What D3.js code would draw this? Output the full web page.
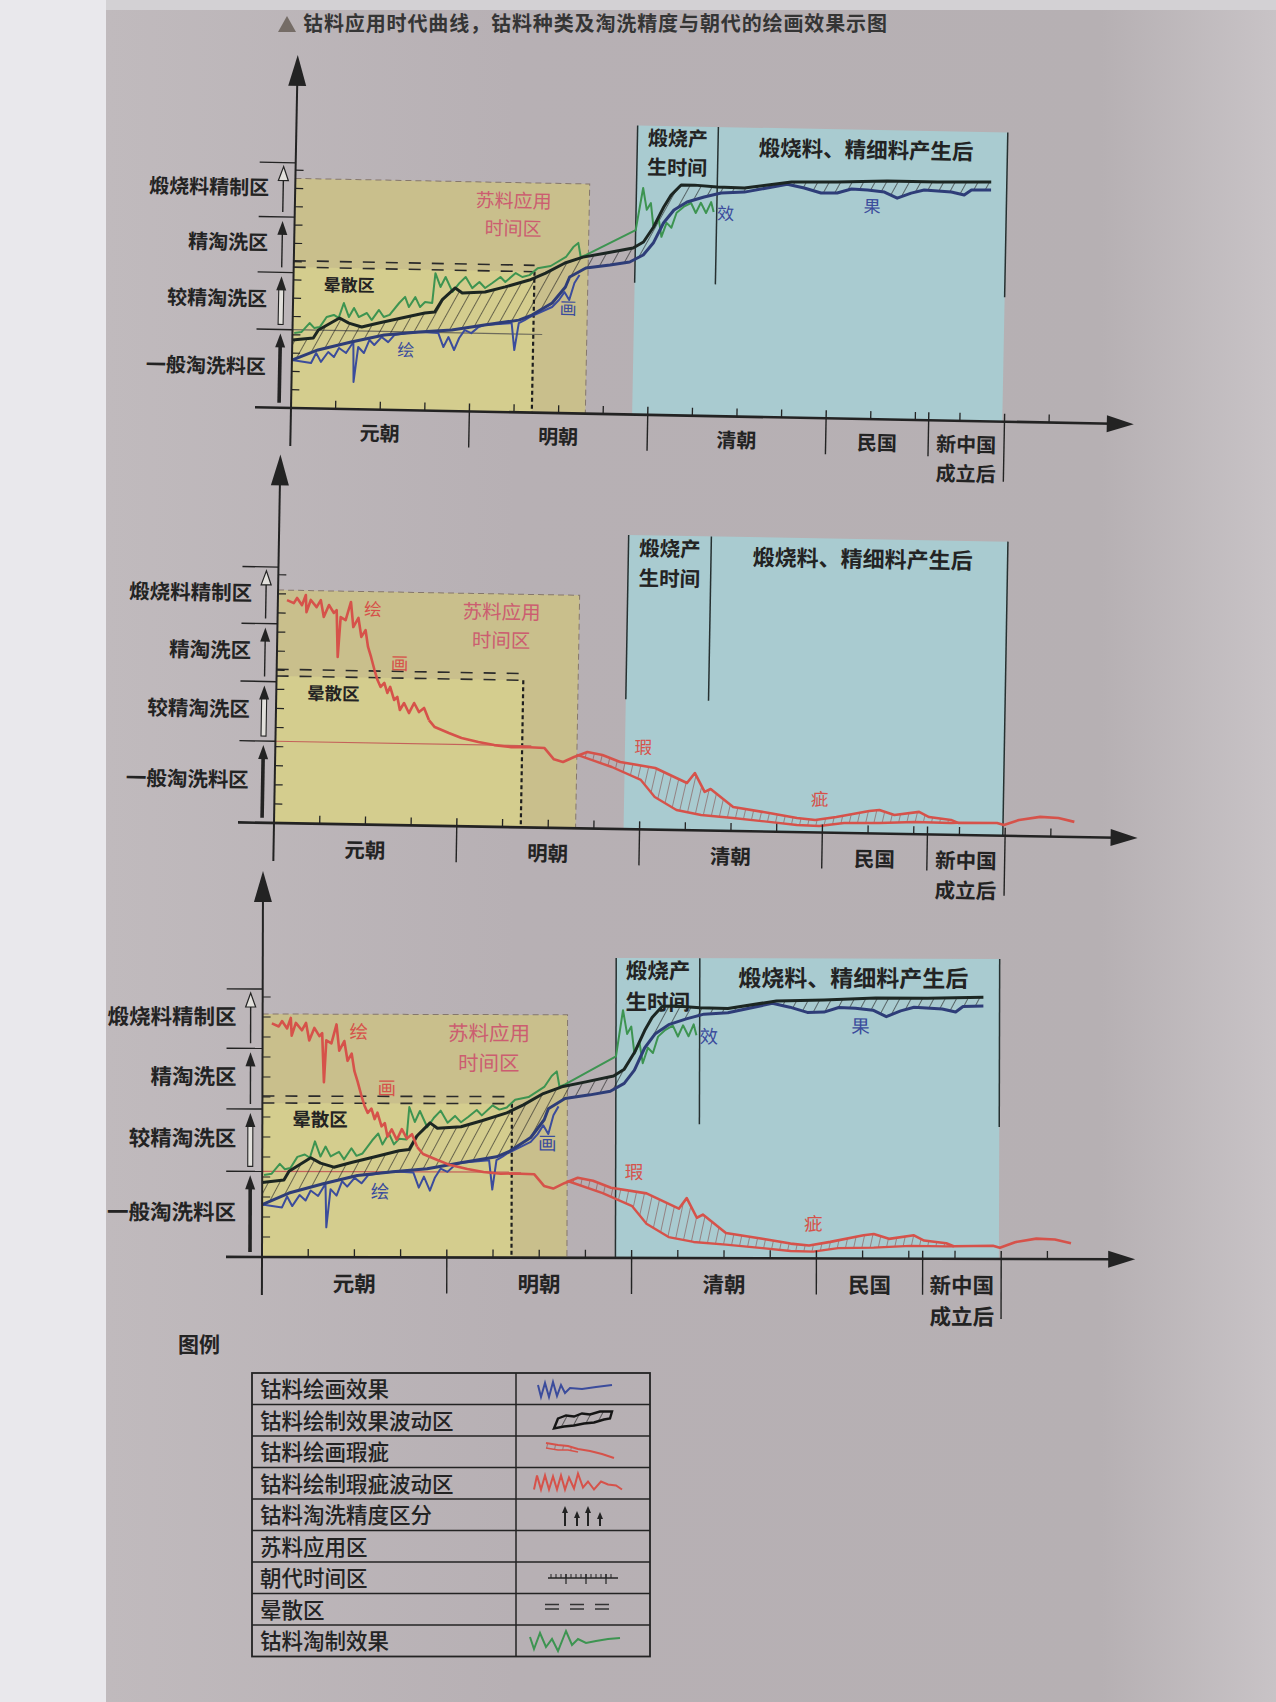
<!DOCTYPE html>
<html>
<head>
<meta charset="utf-8">
<script src="https://cdn.jsdelivr.net/npm/d3@7"></script>
<style>
  body { margin: 0; background: #e9e8ec; }
  svg { display: block; }
  text { font-family: "Noto Sans CJK SC", "Noto Sans", sans-serif; }
</style>
</head>
<body>
<svg id="chart" width="1276" height="1702"></svg>
<script>
// ---- categories / axis labels ----
const dynastyNames = ["元朝", "明朝", "清朝", "民国", "新中国|成立后"];
const dynastyEdges = [0, 4, 8, 12, 14.3, 16];          // time units along x
const zoneNames = ["一般淘洗料区", "较精淘洗区", "精淘洗区", "煅烧料精制区"];
const zoneEdges = [0, 4.28, 7.4, 10.43, 13.4];         // grade units along y

// ---- special zones ----
const suliaoEnd = 6.6;                                  // 苏料应用时间区 right edge
const blurEnd = 5.4, blurTop = 8.05, blurBottom = 7.7;  // 晕散区
const calcineStart = 7.65, calcineSplit = 9.46, calcineEnd = 15.95;

// ---- 钴料绘画效果 (blue, noisy) ----
const effectU = [0, 0.43, 0.54, 0.65, 0.81, 0.94, 1.05, 1.21, 1.37, 1.39, 1.48, 1.61, 1.73, 1.84, 2.0, 2.15, 2.29, 2.56, 2.89, 3.27,
  3.39, 3.5, 3.63, 3.74, 3.86, 4.01, 4.17, 4.3, 4.91, 4.98, 5.07, 5.2, 5.31, 5.81, 5.96, 6.08, 6.19, 6.3, 6.41];
const effectV = [2.62, 2.48, 3.03, 2.55, 3.1, 2.83, 3.33, 3.06, 3.67, 1.49, 3.4, 3.08, 3.8, 3.53, 3.97, 3.7, 4.1, 4.22, 4.29, 4.25,
  3.49, 4.04, 3.34, 4.0, 4.44, 4.28, 4.62, 4.74, 4.87, 3.4, 4.88, 5.05, 5.22, 5.79, 6.18, 6.62, 6.19, 7.13, 7.57];

// ---- 钴料绘制效果波动区: upper (black) and lower (blue) edges ----
const bandTopU = [0, 0.47, 0.58, 1.05, 1.26, 1.55, 1.93, 2.44, 2.96, 3.18, 3.34, 3.63, 3.79, 4.3, 4.75, 5.29, 5.65, 6.08, 6.48, 7.0,
  7.6, 7.83, 8.05, 8.27, 8.43, 8.65, 8.95, 9.46, 10.07, 11.12, 12.15, 13.27, 14.39, 15.6];
const bandTopV = [3.72, 3.85, 4.29, 4.97, 4.7, 4.5, 4.74, 5.03, 5.33, 5.39, 6.06, 6.73, 6.46, 6.54, 6.84, 7.24, 7.64, 8.21, 8.55, 8.8,
  9.1, 9.44, 10.27, 11.37, 12.03, 12.59, 12.6, 12.52, 12.49, 12.87, 12.92, 13.03, 13.02, 13.08];
const bandBotU = [0, 0.58, 1.32, 2.06, 2.83, 3.57, 4.3, 5.07, 5.36, 5.81, 6.1, 6.19, 6.55, 7.09, 7.53, 7.83, 8.05, 8.27, 8.5, 8.79,
  9.17, 9.55, 10.07, 11.03, 11.41, 11.79, 12.15, 12.47, 12.83, 13.21, 13.5, 13.81, 14.1, 14.71, 15.0, 15.16, 15.6];
const bandBotV = [2.62, 3.2, 3.67, 4.09, 4.28, 4.43, 4.74, 5.04, 5.33, 6.01, 6.9, 7.45, 7.96, 8.15, 8.33, 8.73, 9.39, 10.5, 11.22, 11.67,
  11.96, 12.2, 12.27, 12.75, 12.56, 12.3, 12.32, 12.55, 12.52, 12.42, 12.1, 12.39, 12.57, 12.49, 12.34, 12.62, 12.64];

// ---- 钴料淘制效果 (green) ----
const refineU = [0.04, 0.2, 0.38, 0.49, 0.61, 0.76, 0.92, 1.03, 1.14, 1.26, 1.37, 1.48, 1.66, 1.77, 1.93, 2.04, 2.17, 2.38, 2.51, 2.6,
  2.74, 2.85, 2.96, 3.12, 3.18, 3.3, 3.41, 3.57, 3.72, 3.86, 4.01, 4.17, 4.3, 4.46, 4.64, 4.75, 4.98, 5.13, 5.29, 5.47,
  5.76, 6.1, 6.26, 6.37, 6.43, 6.55, 7.65, 7.8, 7.89, 7.98, 8.05, 8.16, 8.23, 8.34, 8.45, 8.56, 8.72, 8.88, 8.99, 9.1,
  9.22, 9.33, 9.39];
const refineV = [4.1, 4.16, 4.66, 4.39, 4.45, 5.01, 5.13, 4.97, 5.79, 5.03, 5.53, 5.04, 5.27, 4.89, 5.45, 5.07, 5.19, 5.85, 6.19, 5.64,
  6.19, 5.65, 5.93, 5.89, 7.52, 6.77, 7.32, 6.51, 7.0, 7.34, 6.74, 7.08, 6.76, 7.04, 7.38, 7.11, 7.61, 7.4, 7.51, 7.9,
  8.03, 8.54, 9.09, 9.32, 8.55, 8.67, 10.08, 12.39, 11.2, 11.57, 10.21, 10.76, 9.74, 10.51, 10.25, 11.07, 11.41, 11.62, 11.08, 11.64,
  11.09, 11.69, 11.15];

// ---- 钴料绘制瑕疵波动区 (red, noisy) ----
const flawNoisyU = [0.2, 0.35, 0.42, 0.53, 0.61, 0.63, 0.72, 0.85, 0.94, 1.01, 1.12, 1.23, 1.29, 1.33, 1.38, 1.49, 1.6, 1.66, 1.77, 1.84,
  1.93, 1.99, 2.06, 2.14, 2.21, 2.28, 2.36, 2.43, 2.49, 2.58, 2.65, 2.71, 2.8, 2.91, 3.02, 3.13, 3.24, 3.35];
const flawNoisyV = [11.68, 11.53, 11.8, 11.43, 11.96, 11.07, 11.71, 11.34, 11.71, 10.83, 11.46, 11.05, 11.2, 8.75, 10.84, 10.69, 11.64, 10.33, 10.81, 9.82,
  10.18, 9.3, 8.78, 8.1, 7.58, 7.22, 7.43, 6.91, 7.23, 6.55, 6.71, 6.03, 6.4, 5.88, 6.41, 5.94, 6.16, 5.53];

// ---- 钴料绘画瑕疵 (red): upper line and lower edge of hatched band ----
const flawU = [3.35, 3.48, 3.79, 4.07, 4.44, 4.79, 5.16, 5.45, 5.89, 6.1, 6.3, 6.54, 6.83, 7.16, 7.55, 8.32, 9.02, 9.19, 9.41, 9.54,
  10.04, 10.83, 11.44, 11.84, 12.3, 13.02, 13.24, 13.57, 14.11, 14.33, 14.81, 14.97, 15.82, 15.97, 16.3, 16.76, 17.16, 17.51];
const flawV = [5.53, 5.17, 4.87, 4.62, 4.43, 4.28, 4.19, 4.21, 4.17, 3.59, 3.46, 3.73, 4.0, 3.86, 3.51, 3.23, 2.47, 3.0, 2.02, 2.18,
  1.26, 0.98, 0.74, 0.65, 0.83, 1.17, 1.23, 0.99, 1.17, 0.91, 0.78, 0.63, 0.66, 0.56, 0.84, 1.02, 0.98, 0.79];
const flawLowU = [6.61, 7.37, 8.01, 8.32, 8.8, 9.34, 10.04, 10.83, 11.44, 11.93, 12.47, 13.24, 14.03, 14.81, 14.97];
const flawLowV = [3.84, 3.24, 2.59, 1.71, 1.05, 0.81, 0.68, 0.51, 0.37, 0.34, 0.52, 0.55, 0.64, 0.62, 0.63];

// ---- curve annotations ----
const effectNotes = [["绘", 2.55, 3.2], ["画", 6.17, 5.64], ["效", 9.66, 11.0], ["果", 12.94, 11.53]];
const flawNotes = [["绘", 2.08, 11.19], ["画", 2.69, 8.38], ["瑕", 8.05, 4.21], ["疵", 11.93, 1.65]];

// ---- legend ----
const legendLabels = ["钴料绘画效果", "钴料绘制效果波动区", "钴料绘画瑕疵", "钴料绘制瑕疵波动区",
  "钴料淘洗精度区分", "苏料应用区", "朝代时间区", "晕散区", "钴料淘制效果"];

const title = "钴料应用时代曲线，钴料种类及淘洗精度与朝代的绘画效果示图";

// panel placement (the photo page is slightly curved, so each panel differs a bit)
const panels = [
  { x0: 291, y0: 408, kx: 44.6, ky: 18.3, tilt: 1.1, fs: 20, effect: true, flaw: false,
    yellowTop: 12.55, blueTop: 15.8, blueLines: [7.2, 7.2, 6.8], boundary: "#6d6b5c" },
  { x0: 274, y0: 823, kx: 45.7, ky: 19.1, tilt: 1.0, fs: 20.5, effect: false, flaw: true,
    yellowTop: 12.2, blueTop: 15.4, blueLines: [6.8, 6.8, 0], boundary: "#c4625a" },
  { x0: 262, y0: 1257, kx: 46.2, ky: 20.0, tilt: 0.15, fs: 21.5, effect: true, flaw: true,
    yellowTop: 12.15, blueTop: 15.0, blueLines: [0, 6.7, 6.6], boundary: "#c4625a" }
];

const C = {
  ink: "#232323", yellow: "#c9bf8c", yellowLight: "#d4cd8e", cyan: "#a9cbd0",
  blue: "#3b4c9c", blueEdge: "#2e3d78", black: "#1c2622", green: "#3d9451", red: "#d6524a", pink: "#cc5d70"
};

const svg = d3.select("#chart");
const defs = svg.append("defs");

const pageGrad = defs.append("linearGradient").attr("id", "page").attr("x1", 0).attr("x2", 1).attr("y1", 0).attr("y2", 0);
pageGrad.append("stop").attr("offset", "0").attr("stop-color", "#c0babd");
pageGrad.append("stop").attr("offset", "0.35").attr("stop-color", "#b7b0b4");
pageGrad.append("stop").attr("offset", "0.85").attr("stop-color", "#b6b0b3");
pageGrad.append("stop").attr("offset", "1").attr("stop-color", "#c8c3c6");

const hatchK = defs.append("pattern").attr("id", "hatchK").attr("patternUnits", "userSpaceOnUse")
  .attr("width", 10).attr("height", 10).attr("patternTransform", "rotate(28)");
hatchK.append("line").attr("x1", 0).attr("y1", 0).attr("x2", 0).attr("y2", 10).attr("stroke", "#1e1e1e").attr("stroke-width", 1.2);

const hatchR = defs.append("pattern").attr("id", "hatchR").attr("patternUnits", "userSpaceOnUse")
  .attr("width", 8).attr("height", 8).attr("patternTransform", "rotate(12)");
hatchR.append("line").attr("x1", 0).attr("y1", 0).attr("x2", 0).attr("y2", 8).attr("stroke", "#7e3a35").attr("stroke-width", 1);

// page
svg.append("rect").attr("width", 1276).attr("height", 1702).attr("fill", "#e9e8ec");
svg.append("rect").attr("x", 106).attr("y", 0).attr("width", 1170).attr("height", 1702).attr("fill", "url(#page)");
svg.append("rect").attr("x", 106).attr("y", 0).attr("width", 1170).attr("height", 10).attr("fill", "#d3d1d4");

// title
svg.append("path").attr("d", "M278,32 L287,16 L296,32 Z").attr("fill", "#756c66");
svg.append("text").attr("x", 303).attr("y", 31).attr("font-size", 20).attr("font-weight", 700)
  .attr("textLength", 584).attr("lengthAdjust", "spacing").attr("fill", "#353535").text(title);

const pts = (us, vs) => us.map((u, i) => [u, vs[i]]);

// multi-line centred label as one text element
function stacked(g, cx, cy, lines, gap, attrs) {
  const t = g.append("text").attr("x", cx).attr("y", cy).attr("text-anchor", "middle").attr("dominant-baseline", "middle");
  Object.entries(attrs).forEach(([k, v]) => t.attr(k, v));
  lines.forEach((s, j) => t.append("tspan").attr("x", cx).attr("dy", j === 0 ? 0 : gap).text(s));
  return t;
}

panels.forEach(drawPanel);

function drawPanel(p) {
  const g = svg.append("g").attr("transform", `translate(${p.x0},${p.y0}) rotate(${p.tilt})`);
  const x = d3.scaleLinear().domain([0, 19]).range([0, 19 * p.kx]);
  const y = d3.scaleLinear().domain([0, 20]).range([0, -20 * p.ky]);
  const line = d3.line().x(d => x(d[0])).y(d => y(d[1]));
  const gap = p.fs * 1.46;

  // 苏料应用时间区
  g.append("rect").attr("x", x(0)).attr("y", y(p.yellowTop)).attr("width", x(suliaoEnd) - x(0))
    .attr("height", y(0) - y(p.yellowTop)).attr("fill", C.yellow);
  g.append("rect").attr("x", x(0)).attr("y", y(blurBottom)).attr("width", x(blurEnd) - x(0))
    .attr("height", y(0) - y(blurBottom)).attr("fill", C.yellowLight);
  g.append("path").attr("d", `M${x(0)},${y(p.yellowTop)}H${x(suliaoEnd)}V${y(0)}`)
    .attr("fill", "none").attr("stroke", "#85776c").attr("stroke-width", 1).attr("stroke-dasharray", "6,4");
  stacked(g, x(4.9), y(p.yellowTop) + 20, ["苏料应用", "时间区"], (p.fs - 1) * 1.46,
    { "font-size": p.fs - 1, fill: C.pink });

  // 煅烧料 zone
  g.append("rect").attr("x", x(calcineStart)).attr("y", y(p.blueTop)).attr("width", x(calcineEnd) - x(calcineStart))
    .attr("height", y(0) - y(p.blueTop)).attr("fill", C.cyan);
  [calcineStart, calcineSplit, calcineEnd].forEach((u, i) => {
    g.append("line").attr("x1", x(u)).attr("x2", x(u)).attr("y1", y(p.blueTop)).attr("y2", y(p.blueLines[i]))
      .attr("stroke", "#263030").attr("stroke-width", 1.5);
  });
  const midA = (x(calcineStart) + x(calcineSplit)) / 2;
  stacked(g, midA, y(p.blueTop) + 14.5, ["煅烧产", "生时间"], gap,
    { "font-size": p.fs, "font-weight": 700, fill: C.ink });
  g.append("text").attr("x", x(12.78)).attr("y", y(p.blueTop) + 22).attr("text-anchor", "middle")
    .attr("dominant-baseline", "middle").attr("font-size", p.fs + 1.5).attr("font-weight", 700).attr("fill", C.ink)
    .text("煅烧料、精细料产生后");

  // 晕散区
  [blurTop, blurBottom].forEach(v => {
    g.append("line").attr("x1", x(0)).attr("x2", x(blurEnd)).attr("y1", y(v)).attr("y2", y(v))
      .attr("stroke", "#2a2a2a").attr("stroke-width", 1.6).attr("stroke-dasharray", "12,11");
  });
  g.append("line").attr("x1", x(blurEnd)).attr("x2", x(blurEnd)).attr("y1", y(blurBottom)).attr("y2", y(0))
    .attr("stroke", "#1e1e1e").attr("stroke-width", 2.2).attr("stroke-dasharray", "4,3");
  g.append("text").attr("x", x(1.25)).attr("y", y(blurTop) + 25).attr("text-anchor", "middle")
    .attr("dominant-baseline", "middle").attr("font-size", p.fs - 3).attr("font-weight", 700).attr("fill", C.ink).text("晕散区");

  // boundary between 一般 / 较精 extended into plot
  g.append("line").attr("x1", x(0)).attr("x2", x(5.6)).attr("y1", y(zoneEdges[1])).attr("y2", y(zoneEdges[1]))
    .attr("stroke", p.boundary).attr("stroke-width", 1.2);

  if (p.effect) {
    const top = pts(bandTopU, bandTopV), bot = pts(bandBotU, bandBotV);
    g.append("path").attr("d", line(top.concat(bot.slice().reverse())) + "Z").attr("fill", "url(#hatchK)");
    g.append("path").attr("d", line(pts(refineU, refineV))).attr("fill", "none")
      .attr("stroke", C.green).attr("stroke-width", 2).attr("stroke-linejoin", "round");
    g.append("path").attr("d", line(pts(effectU, effectV))).attr("fill", "none")
      .attr("stroke", C.blue).attr("stroke-width", 2).attr("stroke-linejoin", "round");
    g.append("path").attr("d", line(bot)).attr("fill", "none")
      .attr("stroke", C.blueEdge).attr("stroke-width", 3).attr("stroke-linejoin", "round");
    g.append("path").attr("d", line(top)).attr("fill", "none")
      .attr("stroke", C.black).attr("stroke-width", 3).attr("stroke-linejoin", "round");
    effectNotes.forEach(([t, u, v]) => {
      g.append("text").attr("x", x(u)).attr("y", y(v)).attr("text-anchor", "middle").attr("dominant-baseline", "middle")
        .attr("font-size", p.fs - 3).attr("fill", C.blue).text(t);
    });
  }

  if (p.flaw) {
    const upper = pts(flawU, flawV).filter(d => d[0] >= 6.54 && d[0] <= 14.97);
    const lower = pts(flawLowU, flawLowV);
    g.append("path").attr("d", line(upper.concat(lower.slice().reverse())) + "Z").attr("fill", "url(#hatchR)");
    g.append("path").attr("d", line(pts(flawNoisyU, flawNoisyV))).attr("fill", "none")
      .attr("stroke", C.red).attr("stroke-width", 2.6).attr("stroke-linejoin", "round");
    g.append("path").attr("d", line(pts(flawU, flawV))).attr("fill", "none")
      .attr("stroke", C.red).attr("stroke-width", 2.6).attr("stroke-linejoin", "round");
    g.append("path").attr("d", line(lower)).attr("fill", "none")
      .attr("stroke", C.red).attr("stroke-width", 2.4).attr("stroke-linejoin", "round");
    flawNotes.forEach(([t, u, v]) => {
      g.append("text").attr("x", x(u)).attr("y", y(v)).attr("text-anchor", "middle").attr("dominant-baseline", "middle")
        .attr("font-size", p.fs - 3).attr("fill", C.red).text(t);
    });
  }

  // x axis
  const xEnd = 18.9;
  g.append("line").attr("x1", -36).attr("x2", x(xEnd) - 20).attr("y1", 0).attr("y2", 0)
    .attr("stroke", C.ink).attr("stroke-width", 2.6);
  g.append("path").attr("d", `M${x(xEnd)},0 L${x(xEnd) - 27},-8.5 L${x(xEnd) - 27},8.5 Z`).attr("fill", C.ink);
  d3.range(1, 18).filter(u => !dynastyEdges.includes(u)).forEach(u => {
    g.append("line").attr("x1", x(u)).attr("x2", x(u)).attr("y1", 0).attr("y2", -8).attr("stroke", C.ink).attr("stroke-width", 1.3);
  });
  dynastyEdges.slice(1).forEach((u, i, arr) => {
    g.append("line").attr("x1", x(u)).attr("x2", x(u)).attr("y1", -8).attr("y2", i === arr.length - 1 ? 60 : 36)
      .attr("stroke", C.ink).attr("stroke-width", 1.4);
  });
  dynastyNames.forEach((name, i) => {
    const cx = (x(dynastyEdges[i]) + x(dynastyEdges[i + 1])) / 2;
    stacked(g, cx, p.ky * 1.42, name.split("|"), gap,
      { "font-size": p.fs, "font-weight": 700, fill: C.ink });
  });

  // y axis
  const yEnd = 19.3;
  g.append("line").attr("x1", 0).attr("x2", 0).attr("y1", 38).attr("y2", y(yEnd) + 20)
    .attr("stroke", C.ink).attr("stroke-width", 2);
  g.append("path").attr("d", `M0,${y(yEnd)} L-9,${y(yEnd) + 31} L9,${y(yEnd) + 31} Z`).attr("fill", C.ink);
  d3.range(1, 14).forEach(v => {
    g.append("line").attr("x1", 0).attr("x2", 8).attr("y1", y(v)).attr("y2", y(v)).attr("stroke", C.ink).attr("stroke-width", 1.2);
  });
  zoneEdges.slice(1).forEach(v => {
    g.append("line").attr("x1", -36).attr("x2", 0).attr("y1", y(v)).attr("y2", y(v)).attr("stroke", C.ink).attr("stroke-width", 1.4);
  });

  // zone arrows and labels
  zoneNames.forEach((name, i) => {
    const yb = y(zoneEdges[i]) - 5, yt = y(zoneEdges[i + 1]) + 4, ax = -12;
    const head = `M${ax},${yt} L${ax - 5},${yt + 14} L${ax + 5},${yt + 14} Z`;
    if (i === 0) {
      g.append("line").attr("x1", ax).attr("x2", ax).attr("y1", yb).attr("y2", yt + 12).attr("stroke", C.ink).attr("stroke-width", 3.6);
      g.append("path").attr("d", head).attr("fill", C.ink);
    } else if (i === 1) {
      g.append("rect").attr("x", ax - 2.5).attr("y", yt + 13).attr("width", 5).attr("height", yb - yt - 13)
        .attr("fill", "#e2e0dc").attr("stroke", C.ink).attr("stroke-width", 1.1);
      g.append("path").attr("d", head).attr("fill", C.ink);
    } else if (i === 2) {
      g.append("line").attr("x1", ax).attr("x2", ax).attr("y1", yb).attr("y2", yt + 12).attr("stroke", C.ink).attr("stroke-width", 1.4);
      g.append("path").attr("d", head).attr("fill", C.ink);
    } else {
      g.append("line").attr("x1", ax).attr("x2", ax).attr("y1", yb).attr("y2", yt + 13).attr("stroke", C.ink).attr("stroke-width", 1.4);
      g.append("path").attr("d", head).attr("fill", "#e2e0dc").attr("stroke", C.ink).attr("stroke-width", 1.2);
    }
    g.append("text").attr("x", -26).attr("y", (y(zoneEdges[i]) + y(zoneEdges[i + 1])) / 2).attr("text-anchor", "end")
      .attr("dominant-baseline", "middle").attr("font-size", p.fs).attr("font-weight", 700).attr("fill", C.ink).text(name);
  });
}

// ---- legend ----
const lg = { left: 252, right: 650, top: 1373, mid: 516, rowH: 31.5 };
svg.append("text").attr("x", 178).attr("y", 1352).attr("font-size", 21).attr("font-weight", 700).attr("fill", C.ink).text("图例");
const legend = svg.append("g");
legend.append("rect").attr("x", lg.left).attr("y", lg.top).attr("width", lg.right - lg.left)
  .attr("height", lg.rowH * legendLabels.length).attr("fill", "none").attr("stroke", C.ink).attr("stroke-width", 1.8);
legend.append("line").attr("x1", lg.mid).attr("x2", lg.mid).attr("y1", lg.top).attr("y2", lg.top + lg.rowH * legendLabels.length)
  .attr("stroke", C.ink).attr("stroke-width", 1.5);
legendLabels.forEach((label, i) => {
  const ry = lg.top + i * lg.rowH;
  if (i > 0) legend.append("line").attr("x1", lg.left).attr("x2", lg.right).attr("y1", ry).attr("y2", ry)
    .attr("stroke", C.ink).attr("stroke-width", 1.5);
  legend.append("text").attr("x", lg.left + 8).attr("y", ry + 24).attr("font-size", 21.5).attr("font-weight", 500)
    .attr("fill", C.ink).text(label);
});

const sample = (i, d) => legend.append("path").attr("transform", `translate(${lg.mid},${lg.top + i * lg.rowH})`).attr("d", d);
const sl = d3.line();
sample(0, sl([[22, 12], [25, 24], [29, 10], [33, 24], [37, 9], [41, 23], [45, 12], [49, 20], [54, 15], [66, 16], [80, 14], [96, 12]]))
  .attr("fill", "none").attr("stroke", C.blue).attr("stroke-width", 2);
const kTop = [[42, 14], [50, 11], [58, 12], [66, 9], [74, 10], [84, 7], [96, 7]];
const kBot = [[38, 24], [48, 22], [58, 21], [68, 19], [78, 18], [88, 15], [94, 14]];
sample(1, sl(kTop.concat(kBot.slice().reverse())) + "Z").attr("fill", "url(#hatchK)").attr("stroke", "#151515").attr("stroke-width", 2.4);
const rTop = [[30, 7], [42, 9], [52, 10], [62, 13], [74, 15], [86, 18], [98, 22]];
const rBot = [[30, 12], [42, 14], [52, 14], [62, 16]];
sample(2, sl(rTop.slice(0, 4).concat(rBot.slice().reverse())) + "Z").attr("fill", "url(#hatchR)");
sample(2, sl(rTop)).attr("fill", "none").attr("stroke", C.red).attr("stroke-width", 2);
sample(2, sl(rBot)).attr("fill", "none").attr("stroke", C.red).attr("stroke-width", 1.6);
sample(3, sl([[18, 22], [21, 8], [25, 22], [29, 8], [33, 22], [37, 9], [41, 22], [45, 8], [49, 22], [53, 10], [58, 21], [62, 6],
  [67, 20], [72, 14], [78, 22], [85, 14], [92, 17], [100, 18], [106, 22]])).attr("fill", "none").attr("stroke", C.red).attr("stroke-width", 2);
[[49, 7], [61, 12], [72, 7], [84, 13]].forEach(([ax, ty]) => {
  sample(4, `M${ax},27V${ty + 6}`).attr("stroke", C.ink).attr("stroke-width", 2);
  sample(4, `M${ax},${ty}L${ax - 3},${ty + 7}L${ax + 3},${ty + 7}Z`).attr("fill", C.ink);
});
sample(6, "M32,16H102").attr("stroke", C.ink).attr("stroke-width", 1.5);
sample(6, d3.range(35, 100, 5).map(t => `M${t},16V12`).join("")).attr("stroke", C.ink).attr("stroke-width", 1);
sample(6, [50, 70, 90].map(t => `M${t},12V22`).join("")).attr("stroke", C.ink).attr("stroke-width", 1.2);
sample(7, [[29, 43], [54, 68], [79, 93]].map(([a, b]) => `M${a},11H${b}M${a},15.5H${b}`).join("")).attr("stroke", "#333").attr("stroke-width", 1.6);
sample(8, sl([[14, 12], [18, 24], [24, 8], [30, 22], [36, 14], [42, 26], [50, 6], [56, 20], [62, 14], [70, 18], [80, 16], [92, 14], [104, 13]]))
  .attr("fill", "none").attr("stroke", C.green).attr("stroke-width", 2);
</script>
</body>
</html>
